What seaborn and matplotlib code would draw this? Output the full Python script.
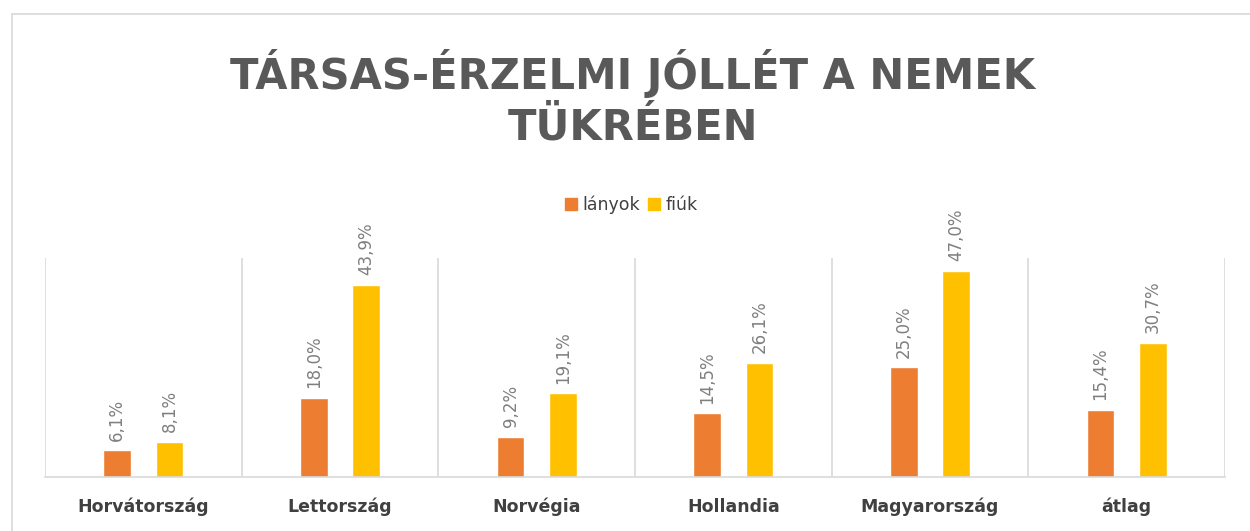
import matplotlib
matplotlib.use("Agg")
import matplotlib.pyplot as plt
from matplotlib.lines import Line2D
from matplotlib.patches import Patch
import seaborn as sns
import pandas as pd

orszagok = ["Horvátország", "Lettország", "Norvégia", "Hollandia", "Magyarország", "átlag"]
lanyok = [6.1, 18.0, 9.2, 14.5, 25.0, 15.4]
fiuk = [8.1, 43.9, 19.1, 26.1, 47.0, 30.7]
csoportok = ["lányok", "fiúk"]
szinek = ["#ED7D31", "#FFC000"]

df = pd.DataFrame({
    "orszag": orszagok * 2,
    "nem": [csoportok[0]] * len(orszagok) + [csoportok[1]] * len(orszagok),
    "ertek": lanyok + fiuk,
})

sns.set_style("white")
plt.rcParams["font.family"] = ["DejaVu Sans"]

fig = plt.figure(figsize=(12.5, 5.31), dpi=100)
ax = fig.add_axes([0.036, 0.1017, 0.944, 0.4125])

sns.barplot(data=df, x="orszag", y="ertek", hue="nem", palette=szinek,
            width=0.53, gap=0.47, ax=ax, legend=False, saturation=1)

# adatcimkek
for cont in ax.containers:
    for bar in cont:
        h = bar.get_height()
        ax.annotate(f"{h:.1f}%".replace(".", ","),
                    (bar.get_x() + bar.get_width() / 2, h),
                    xytext=(0, 7), textcoords="offset points",
                    rotation=90, ha="center", va="bottom",
                    fontsize=12, color="#7F7F7F")

ax.set_ylim(0, 50)
ax.set_xlim(-0.5, 5.5)
ax.set_yticks([])
ax.set_xlabel("")
ax.set_ylabel("")
ax.set_xticks(range(len(orszagok)))
ax.set_xticklabels(orszagok, fontsize=12.5, fontweight="bold", color="#404040")
ax.tick_params(axis="x", length=0, pad=15)
ax.set_xticks([i - 0.5 for i in range(len(orszagok) + 1)], minor=True)
ax.tick_params(axis="x", which="minor", length=0)
ax.grid(False)
ax.grid(True, axis="x", which="minor", color="#D9D9D9", linewidth=1.2)
for s in ["top", "left", "right"]:
    ax.spines[s].set_visible(False)
ax.spines["bottom"].set_color("#D9D9D9")
ax.spines["bottom"].set_linewidth(1.2)

# jelmagyarazat
handles = [Patch(color=c, label=l) for c, l in zip(szinek, csoportok)]
fig.legend(handles=handles, loc="center", bbox_to_anchor=(0.505, 1 - 205 / 531),
           ncol=2, frameon=False, fontsize=12.5, handlelength=0.7, handleheight=0.7,
           handletextpad=0.3, columnspacing=0.5, labelcolor="#404040")

fig.text(0.506, 1 - 73 / 531, "TÁRSAS-ÉRZELMI JÓLLÉT A NEMEK", ha="center", va="center",
         fontsize=30, fontweight="bold", color="#595959")
fig.text(0.506, 1 - 127 / 531, "TÜKRÉBEN", ha="center", va="center",
         fontsize=30, fontweight="bold", color="#595959")

# diagram kerete (felso es bal oldal)
y_top = 1 - 14 / 531
x_left = 12 / 1250
fig.add_artist(Line2D([x_left, 1], [y_top, y_top], transform=fig.transFigure,
                      color="#D9D9D9", linewidth=1.2))
fig.add_artist(Line2D([x_left, x_left], [0, y_top], transform=fig.transFigure,
                      color="#D9D9D9", linewidth=1.2))

fig.savefig("out.png", dpi=100)
